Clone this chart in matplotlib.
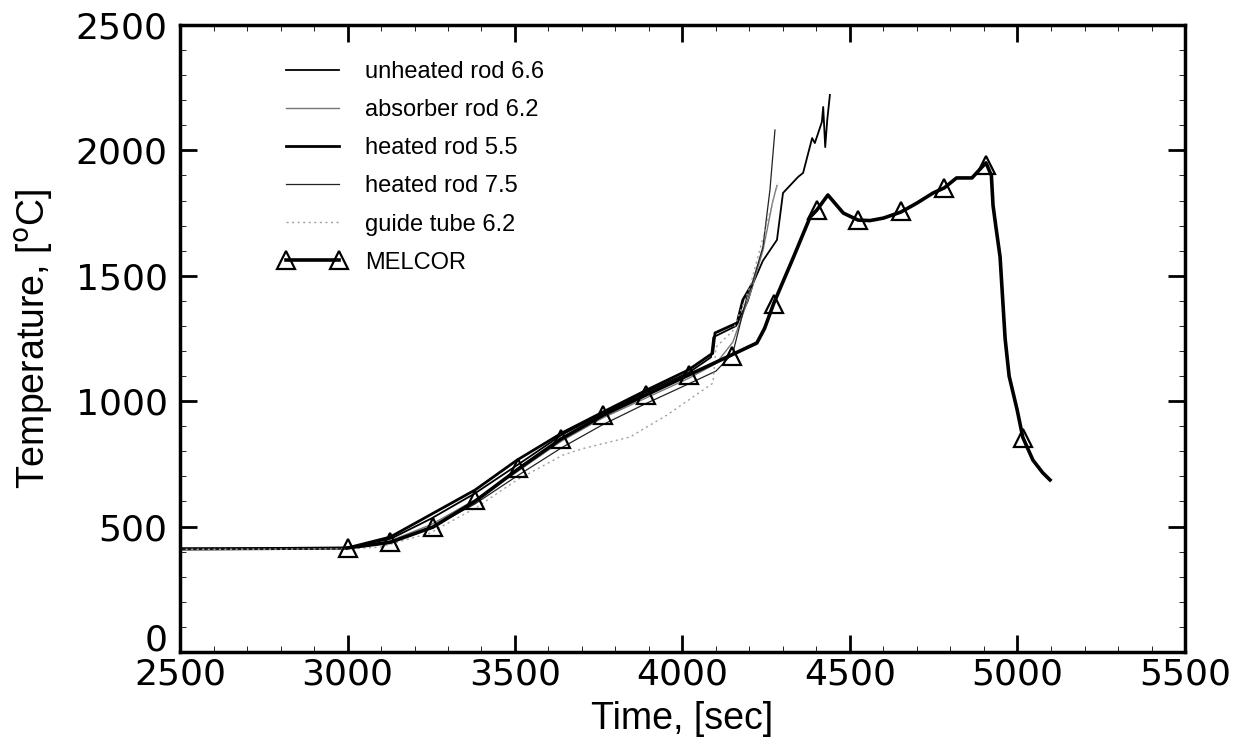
#!/usr/bin/env python3

import matplotlib
matplotlib.use("Agg")
import matplotlib.pyplot as plt
import matplotlib.transforms as mtransforms
from matplotlib.lines import Line2D
from matplotlib.ticker import MultipleLocator

unheated_66_t = [2500, 2800, 3000, 3130, 3250, 3380, 3510, 3640, 3760, 3890, 4020,
                 4085, 4092, 4160, 4195, 4211, 4240, 4282, 4300, 4345, 4360, 4387,
                 4395, 4416, 4420, 4426, 4432, 4440]
unheated_66_T = [408, 410, 412, 452, 532, 632, 748, 866, 950, 1035, 1115,
                 1175, 1255, 1300, 1400, 1471, 1560, 1643, 1830, 1894, 1910, 2049,
                 2029, 2113, 2173, 2013, 2120, 2221]

absorber_62_t = [2500, 2800, 3000, 3127, 3250, 3380, 3510, 3640, 3760, 3890, 4020,
                 4100, 4150, 4200, 4240, 4270, 4282]
absorber_62_T = [411, 412, 413, 443, 508, 606, 722, 842, 932, 1012, 1092,
                 1150, 1235, 1420, 1600, 1800, 1860]

heated_55_t = [2500, 2800, 3000, 3127, 3246, 3381, 3506, 3640, 3763, 3894, 4017,
               4082, 4090, 4097, 4163, 4180, 4205]
heated_55_T = [412, 413, 415, 458, 546, 646, 765, 873, 957, 1045, 1124,
               1184, 1190, 1272, 1312, 1403, 1460]

heated_75_t = [2500, 2800, 3000, 3127, 3250, 3380, 3510, 3640, 3760, 3890, 4020,
               4100, 4150, 4192, 4211, 4240, 4261, 4276]
heated_75_T = [410, 411, 413, 435, 495, 590, 705, 815, 905, 990, 1070,
               1120, 1190, 1415, 1483, 1615, 1842, 2081]

guide_62_t = [2500, 2800, 3000, 3097, 3246, 3387, 3506, 3643, 3700, 3843, 3954,
              4091, 4100, 4150, 4200, 4250, 4285]
guide_62_T = [409, 410, 411, 418, 474, 578, 686, 785, 810, 857, 945,
              1072, 1216, 1280, 1450, 1700, 1870]

# --- MELCOR calculation ---
melcor_t = [3000, 3127, 3255, 3382, 3510, 3637, 3764, 3891, 4018, 4146, 4222,
            4245, 4273, 4330, 4381, 4401, 4434, 4480, 4524, 4560, 4600, 4652,
            4700, 4748, 4781, 4818, 4864, 4895, 4906, 4922, 4927, 4935, 4948,
            4963, 4975, 4999, 5016, 5046, 5075, 5097]
melcor_T = [415, 437, 498, 602, 730, 849, 945, 1025, 1104, 1184, 1232,
            1290, 1392, 1570, 1734, 1762, 1822, 1750, 1722, 1720, 1730, 1754,
            1790, 1830, 1850, 1890, 1890, 1935, 1950, 1900, 1780, 1700, 1575,
            1250, 1100, 965, 855, 765, 715, 686]

melcor_mark_t = [3000, 3127, 3255, 3382, 3510, 3637, 3764, 3891, 4018, 4148,
                 4273, 4401, 4524, 4652, 4781, 4906, 5016]
melcor_mark_T = [415, 437, 498, 604, 732, 851, 945, 1025, 1104, 1180,
                 1387, 1762, 1722, 1760, 1850, 1942, 855]

xticks = [2500, 3000, 3500, 4000, 4500, 5000, 5500]
yticks = [0, 500, 1000, 1500, 2000, 2500]

label_font = "Liberation Sans"
tick_font = "DejaVu Sans"

fig = plt.figure(figsize=(12.5, 7.56), dpi=100)
ax = fig.add_axes([0.144, 0.1376, 0.804, 0.8294])

ax.plot(unheated_66_t, unheated_66_T, color="black", lw=1.3, label="unheated rod 6.6")
ax.plot(absorber_62_t, absorber_62_T, color="#777777", lw=1.0, label="absorber rod 6.2")
ax.plot(heated_55_t, heated_55_T, color="black", lw=2.0, label="heated rod 5.5")
ax.plot(heated_75_t, heated_75_T, color="#222222", lw=0.9, label="heated rod 7.5")
ax.plot(guide_62_t, guide_62_T, color="#a0a0a0", lw=1.0, ls=(0, (1.5, 2.5)),
        label="guide tube 6.2")

ax.plot(melcor_t, melcor_T, color="black", lw=2.6)
ax.plot(melcor_mark_t, melcor_mark_T, ls="none", marker="^", ms=13,
        mfc="none", mec="black", mew=1.6)

# legend: proxy for the MELCOR line + markers
handles, labels = ax.get_legend_handles_labels()
handles.append(Line2D([], [], color="black", lw=2.6, marker="^", ms=13,
                      mfc="none", mec="black", mew=1.6))
labels.append("MELCOR")
ax.legend(handles, labels, loc="upper left", bbox_to_anchor=(0.098, 0.942),
          frameon=False, numpoints=2, handlelength=2.85, handletextpad=0.8,
          labelspacing=0.68, borderpad=0, borderaxespad=0,
          prop={"family": label_font, "size": 17})

# axes styling
ax.set_xlim(2500, 5500)
ax.set_ylim(0, 2500)
ax.set_xticks(xticks)
ax.set_yticks(yticks)
ax.xaxis.set_minor_locator(MultipleLocator(100))
ax.yaxis.set_minor_locator(MultipleLocator(100))
ax.tick_params(which="both", direction="in", top=True, right=True)
ax.tick_params(which="major", length=12, width=2, labelsize=26)
ax.tick_params(axis="x", which="major", pad=4)
ax.tick_params(axis="y", which="major", pad=9)
ax.tick_params(which="minor", length=4, width=0.6)
for lab in ax.get_xticklabels() + ax.get_yticklabels():
    lab.set_fontfamily(tick_font)
for sp in ax.spines.values():
    sp.set_linewidth(2.5)

# the "0" on the y axis sits a little above the axis line, as in the original
zero_lab = ax.get_yticklabels()[0]
zero_lab.set_transform(zero_lab.get_transform() +
                       mtransforms.ScaledTranslation(0, 11 / 72, fig.dpi_scale_trans))

ax.set_xlabel("Time, [sec]", fontsize=27, family=label_font, labelpad=7)
ax.set_ylabel("Temperature, [$^{\\mathrm{o}}$C]", fontsize=27, family=label_font,
              labelpad=15)

fig.savefig("out.png", dpi=100)
